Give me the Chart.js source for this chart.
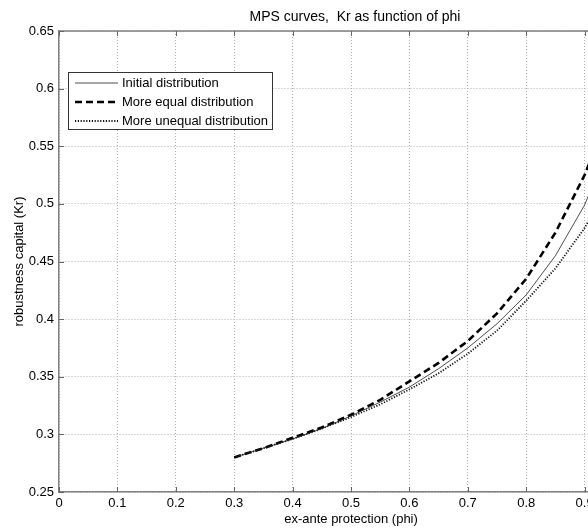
<!DOCTYPE html>
<html>
<head>
<meta charset="utf-8">
<script src="https://cdn.jsdelivr.net/npm/chart.js@4/dist/chart.umd.min.js"></script>
<style>
  html, body { margin: 0; padding: 0; background: #fff; }
  #wrap { width: 588px; height: 531px; overflow: hidden; position: relative; }
  canvas { display: block; }
</style>
</head>
<body>
<div id="wrap">
  <canvas id="mps" width="700" height="531"></canvas>
</div>
<script>
// phi values where Kr was evaluated
const phi = [0.30, 0.35, 0.40, 0.45, 0.50, 0.55, 0.60, 0.65, 0.70, 0.75, 0.80, 0.85, 0.90, 0.95];
const krInitial = [0.280, 0.288, 0.296, 0.305, 0.316, 0.328, 0.341, 0.357, 0.375, 0.396, 0.421, 0.455, 0.499, 0.560];
const krEqual   = [0.280, 0.288, 0.297, 0.306, 0.317, 0.330, 0.346, 0.362, 0.381, 0.405, 0.435, 0.475, 0.525, 0.590];
const krUnequal = [0.280, 0.288, 0.296, 0.305, 0.315, 0.326, 0.339, 0.353, 0.370, 0.390, 0.416, 0.444, 0.479, 0.525];

const xTicks = [0, 0.1, 0.2, 0.3, 0.4, 0.5, 0.6, 0.7, 0.8, 0.9, 1];
const yTicks = [0.25, 0.3, 0.35, 0.4, 0.45, 0.5, 0.55, 0.6, 0.65];

const seriesNames = ['Initial distribution', 'More equal distribution', 'More unequal distribution'];

const pts = ys => phi.map((x, i) => ({ x: x, y: ys[i] }));

const FONT = 'Arial, "Liberation Sans", Helvetica, sans-serif';
const AXIS = '#808080';

// matlab-style frame: top/right border, inward ticks, title and boxed legend
const frame = {
  id: 'frame',
  afterDraw(chart) {
    const { ctx, chartArea: a, scales } = chart;
    ctx.save();
    ctx.strokeStyle = AXIS;
    ctx.lineWidth = 1.5;
    ctx.beginPath();
    ctx.moveTo(a.left, a.top);
    ctx.lineTo(a.right, a.top);
    ctx.lineTo(a.right, a.bottom);
    ctx.stroke();

    ctx.lineWidth = 1;
    ctx.strokeStyle = '#666';
    ctx.beginPath();
    xTicks.forEach(v => {
      const px = Math.round(scales.x.getPixelForValue(v)) + 0.5;
      ctx.moveTo(px, a.bottom); ctx.lineTo(px, a.bottom - 5);
      ctx.moveTo(px, a.top); ctx.lineTo(px, a.top + 5);
    });
    yTicks.forEach(v => {
      const py = Math.round(scales.y.getPixelForValue(v)) + 0.5;
      ctx.moveTo(a.left, py); ctx.lineTo(a.left + 5, py);
      ctx.moveTo(a.right, py); ctx.lineTo(a.right - 5, py);
    });
    ctx.stroke();

    ctx.fillStyle = '#000';
    ctx.font = '14px ' + FONT;
    ctx.textAlign = 'center';
    ctx.textBaseline = 'middle';
    ctx.fillText('MPS curves,  Kr as function of phi', (a.left + a.right) / 2 + 4, 17);

    // legend box
    const lx = a.left + 9, ly = a.top + 41, lw = 204, lh = 57;
    ctx.fillStyle = '#fff';
    ctx.fillRect(lx, ly, lw, lh);
    ctx.strokeStyle = '#333';
    ctx.lineWidth = 1;
    ctx.strokeRect(lx + 0.5, ly + 0.5, lw, lh);
    ctx.font = '13px ' + FONT;
    chart.data.datasets.forEach((ds, i) => {
      const y = ly + 11 + i * 19;
      ctx.save();
      ctx.strokeStyle = ds.borderColor;
      ctx.lineWidth = ds.borderWidth;
      ctx.setLineDash(ds.borderDash || []);
      ctx.beginPath();
      ctx.moveTo(lx + 7, y); ctx.lineTo(lx + 50, y);
      ctx.stroke();
      ctx.restore();
      ctx.fillStyle = '#000';
      ctx.textAlign = 'left';
      ctx.fillText(ds.label, lx + 54, y + 0.5);
    });
    ctx.restore();
  }
};

new Chart(document.getElementById('mps'), {
  type: 'line',
  data: {
    datasets: [
      { label: seriesNames[0], data: pts(krInitial), borderColor: '#222', borderWidth: 0.8, pointRadius: 0, tension: 0 },
      { label: seriesNames[1], data: pts(krEqual), borderColor: '#000', borderWidth: 2.6, borderDash: [7, 4], pointRadius: 0, tension: 0 },
      { label: seriesNames[2], data: pts(krUnequal), borderColor: '#111', borderWidth: 1.8, borderDash: [1.2, 1.6], pointRadius: 0, tension: 0 }
    ]
  },
  options: {
    responsive: false,
    animation: false,
    layout: { padding: { top: 31, right: 57, left: 0, bottom: 0 } },
    plugins: { legend: { display: false }, tooltip: { enabled: false } },
    scales: {
      x: {
        type: 'linear', min: 0, max: 1,
        afterBuildTicks: s => { s.ticks = xTicks.map(v => ({ value: v })); },
        afterFit: s => { s.height = 39; },
        grid: { color: '#b0b0b0', lineWidth: 1, drawTicks: false },
        border: { color: AXIS, width: 1.5, dash: [1, 2] },
        ticks: { color: '#000', padding: 4, maxRotation: 0, font: { family: FONT, size: 13 }, callback: v => String(+v.toFixed(2)) },
        title: { display: true, text: 'ex-ante protection (phi)', color: '#000', font: { family: FONT, size: 13 }, padding: { top: 0, bottom: 4 } }
      },
      y: {
        type: 'linear', min: 0.25, max: 0.65,
        afterBuildTicks: s => { s.ticks = yTicks.map(v => ({ value: v })); },
        afterFit: s => { s.width = 59; },
        grid: { color: '#b0b0b0', lineWidth: 1, drawTicks: false },
        border: { color: AXIS, width: 1.5, dash: [1, 2] },
        ticks: { color: '#000', padding: 5, font: { family: FONT, size: 13 }, callback: v => String(+v.toFixed(2)) },
        title: { display: true, text: 'robustness capital (Kr)', color: '#000', font: { family: FONT, size: 13 }, padding: { top: 12, bottom: 0 } }
      }
    }
  },
  plugins: [frame]
});
</script>
</body>
</html>
